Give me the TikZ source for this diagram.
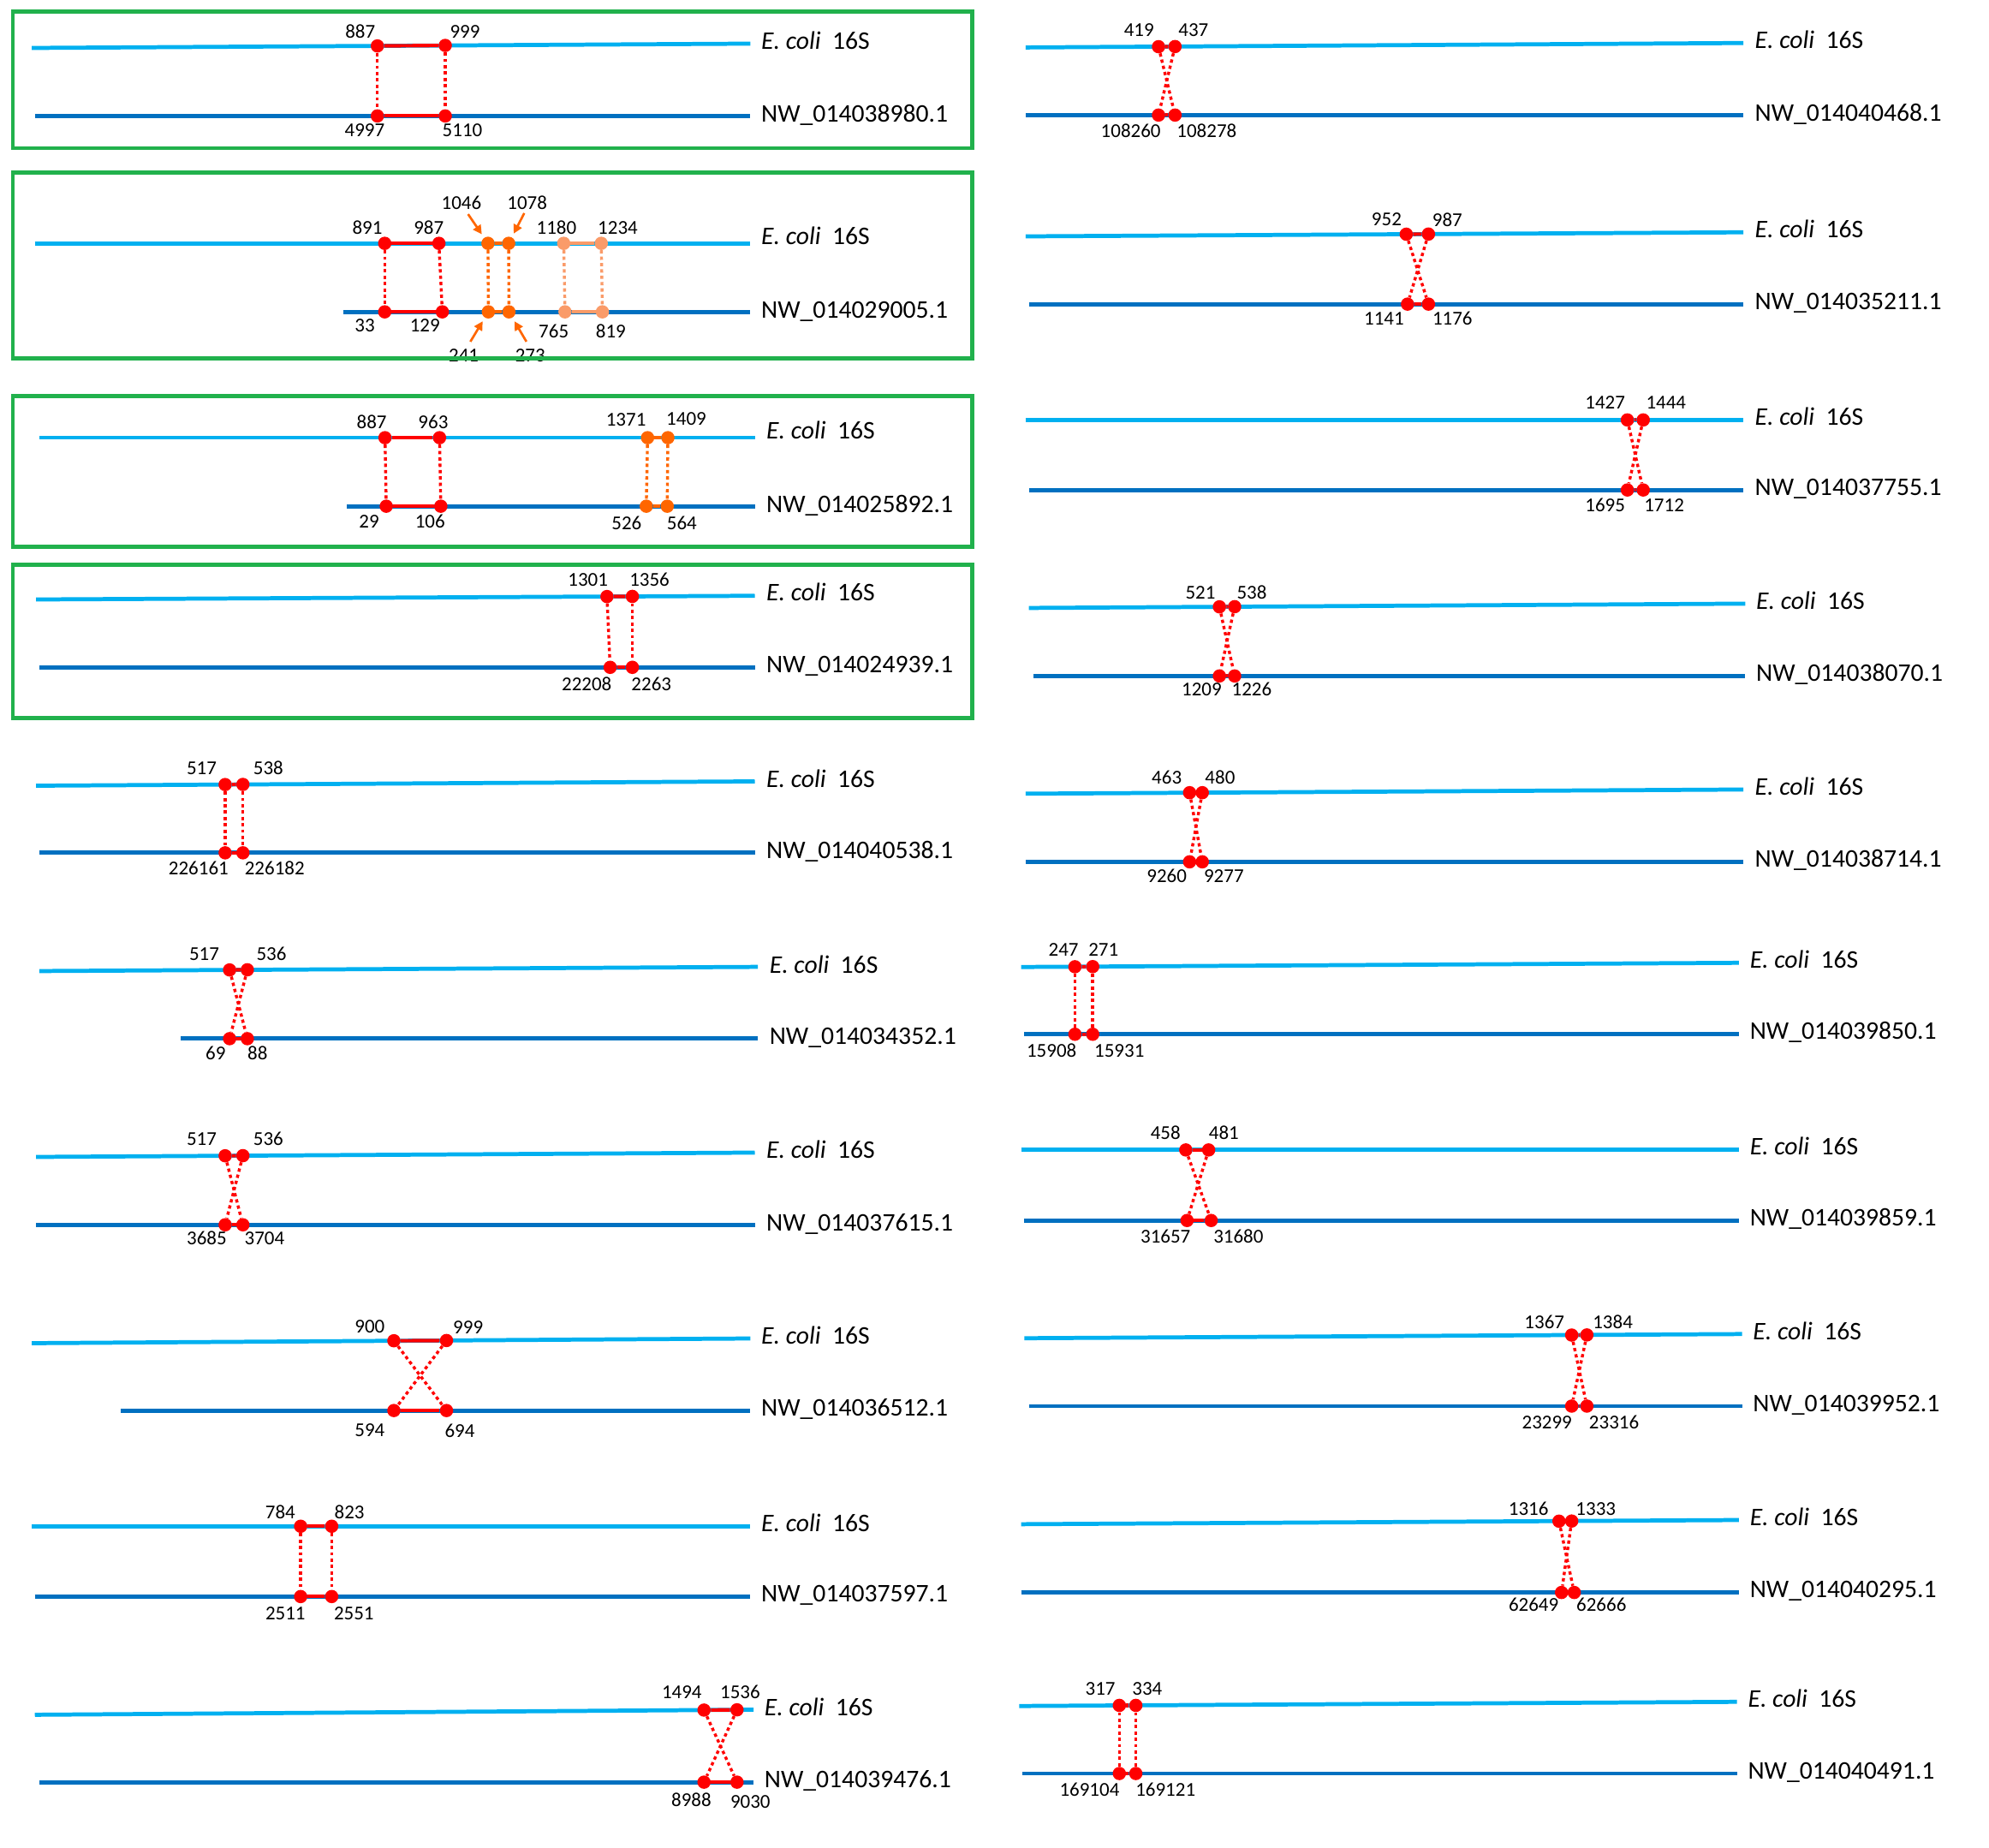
\documentclass[tikz,border=0pt]{standalone}
\usepackage{fontspec}
\setmainfont{Carlito}
\usetikzlibrary{arrows.meta}
\definecolor{ecoli}{HTML}{00B0F0}
\definecolor{nwblue}{HTML}{0070C0}
\definecolor{rred}{HTML}{FF0000}
\definecolor{orng}{HTML}{FF6600}
\definecolor{lorng}{HTML}{FA9B69}
\definecolor{bgreen}{HTML}{21B14C}
\tikzset{
  topseq/.style={draw=ecoli,line width=3.2pt},
  botseq/.style={draw=nwblue,line width=3.3pt},
  seqlab/.style={anchor=base west,inner sep=0pt,yshift=-6.4pt,font=\fontsize{20}{24}\selectfont},
  num/.style={anchor=base,inner sep=0pt,yshift=-4.9pt,font=\fontsize{15.5}{18}\selectfont},
  rdot/.style={circle,fill=rred,inner sep=0pt,minimum size=10.5pt},
  odot/.style={circle,fill=orng,inner sep=0pt,minimum size=10.5pt},
  ldot/.style={circle,fill=lorng,inner sep=0pt,minimum size=10.5pt},
  rseg/.style={draw=rred,line width=2.8pt},
  oseg/.style={draw=orng,line width=2.8pt},
  lseg/.style={draw=lorng,line width=2.8pt},
  rdots/.style={draw=rred,line width=2.3pt,dash pattern=on 2.6pt off 2.4pt},
  odots/.style={draw=orng,line width=2.3pt,dash pattern=on 2.6pt off 2.4pt},
  ldots/.style={draw=lorng,line width=2.3pt,dash pattern=on 2.6pt off 2.4pt},
  parr/.style={draw=orng,line width=1.8pt,-{Triangle[length=7pt,width=7pt]},shorten >=3.2pt},
  gbox/.style={draw=bgreen,line width=3pt}
}
\newcommand\skel[9]{%
  \coordinate (#1tl) at (#2); \coordinate (#1tr) at (#3);
  \coordinate (#1bl) at (#4); \coordinate (#1br) at (#5);
  \draw[topseq] (#1tl) -- (#1tr);
  \draw[botseq] (#1bl) -- (#1br);
  \node[seqlab] (#1a) at (#6,#7) {\textit{E. coli}\hspace{0.45em}16S};
  \node[seqlab] (#1b) at (#6,#8) {NW\_#9};
}
\newcommand\dotquad[6]{%
  \node[#2] (#1t1) at (#3) {}; \node[#2] (#1t2) at (#4) {};
  \node[#2] (#1b1) at (#5) {}; \node[#2] (#1b2) at (#6) {};
}
\newcommand\numq[9]{%
  \node[num] (#1n1) at (#2) {#3}; \node[num] (#1n2) at (#4) {#5};
  \node[num] (#1n3) at (#6) {#7}; \node[num] (#1n4) at (#8) {#9};
}
\newcommand\parlinks[3]{%
  \draw[#2] (#1t1) -- (#1t2); \draw[#2] (#1b1) -- (#1b2);
  \draw[#3] (#1t1) -- (#1b1); \draw[#3] (#1t2) -- (#1b2);
}
\newcommand\crosslinks[3]{%
  \draw[#2] (#1t1) -- (#1t2); \draw[#2] (#1b1) -- (#1b2);
  \draw[#3] (#1t1) -- (#1b2); \draw[#3] (#1t2) -- (#1b1);
}
\begin{document}
\begin{tikzpicture}[x=1pt,y=-1pt]
\useasboundingbox (0,0) rectangle (1568,1456);
\fill[white] (0,0) rectangle (1568,1456);
% ---------------- left column ----------------
% L1
\skel{L1}{25,37.8}{591.5,34.4}{27.5,91.4}{591.5,91.4}{600}{32.6}{90}{014038980.1}
\dotquad{L1}{rdot}{297.5,36.2}{351,35.8}{297.5,91.4}{351,91.4}
\parlinks{L1}{rseg}{rdots}
\numq{L1}{284,25.2}{887}{366.5,25.2}{999}{287.5,103}{4997}{364.5,103}{5110}
% L2
\skel{L2}{27.5,191.8}{591.5,191.8}{270.4,245.8}{591.5,245.8}{600}{186.3}{244.1}{014029005.1}
\dotquad{L2r}{rdot}{303.3,191.8}{346,191.8}{303.3,245.8}{348.7,245.8}
\dotquad{L2o}{odot}{384.7,191.8}{401,191.8}{385,245.8}{401.2,245.8}
\dotquad{L2l}{ldot}{444.4,191.8}{474,191.8}{445.4,245.8}{474.9,245.8}
\parlinks{L2r}{rseg}{rdots}
\parlinks{L2o}{oseg}{odots}
\parlinks{L2l}{lseg}{ldots}
\numq{L2r}{289.6,180}{891}{338,180}{987}{287.6,256.5}{33}{335,256.5}{129}
\numq{L2o}{363.8,160}{1046}{415.6,160}{1078}{365.6,280.5}{241}{418,280.5}{273}
\numq{L2l}{438.7,180}{1180}{487,180}{1234}{436.5,261.4}{765}{481.5,261.4}{819}
\coordinate (L2a1) at (369,168.8);
\coordinate (L2a2) at (413.3,168);
\coordinate (L2a3) at (370.8,269.3);
\coordinate (L2a4) at (415,269.3);
\draw[parr] (L2a1) -- (L2ot1);
\draw[parr] (L2a2) -- (L2ot2);
\draw[parr] (L2a3) -- (L2ob1);
\draw[parr] (L2a4) -- (L2ob2);
% L3
\skel{L3}{31,345}{595,345}{273.5,399}{595,399}{604}{339.7}{397.6}{014025892.1}
\dotquad{L3r}{rdot}{303.5,345}{346.5,345}{304.5,399}{347.5,399}
\dotquad{L3o}{odot}{510.5,345}{526.5,345}{509.5,399}{526,399}
\parlinks{L3r}{rseg}{rdots}
\parlinks{L3o}{oseg}{odots}
\numq{L3r}{293,333}{887}{341.5,333}{963}{291,411.3}{29}{339,411.3}{106}
\numq{L3o}{493.5,330.7}{1371}{541,330.5}{1409}{494,412.9}{526}{537.5,412.9}{564}
% L4
\skel{L4}{28.5,472.5}{595,469.6}{31,526}{595,526}{604}{467}{524}{014024939.1}
\dotquad{L4}{rdot}{478.5,470.2}{498.5,470.1}{481,526}{498.5,526}
\parlinks{L4}{rseg}{rdots}
\numq{L4}{463.5,457}{1301}{512,457}{1356}{462.5,539.5}{22208}{513.5,539.5}{2263}
% L5
\skel{L5}{28.5,619.3}{595,615.9}{31,672.2}{595,672.2}{604}{614}{670.4}{014040538.1}
\dotquad{L5}{rdot}{177.5,618.4}{191.5,618.3}{177.5,672.2}{191.5,672.2}
\parlinks{L5}{rseg}{rdots}
\numq{L5}{159,605.5}{517}{211.5,605.5}{538}{156.5,684.6}{226161}{216.5,684.6}{226182}
% L6
\skel{L6}{31,765.4}{597.5,762.1}{142.5,818.7}{597.5,818.7}{606.5}{760.5}{816.9}{014034352.1}
\dotquad{L6}{rdot}{181,764.5}{195,764.4}{181,818.7}{195,818.7}
\crosslinks{L6}{rseg}{rdots}
\numq{L6}{161,751.8}{517}{214,751.8}{536}{170,830.3}{69}{203,830.3}{88}
% L7
\skel{L7}{28.5,911.9}{595,908.5}{28.5,965.4}{595,965.4}{604}{906.5}{963.6}{014037615.1}
\dotquad{L7}{rdot}{177.5,911}{191.5,910.9}{177.5,965.4}{191.5,965.4}
\crosslinks{L7}{rseg}{rdots}
\numq{L7}{159,898.2}{517}{211.5,898.2}{536}{163,976.5}{3685}{208.5,976.5}{3704}
% L8
\skel{L8}{25,1058.7}{591.5,1055}{95,1111.8}{591.5,1111.8}{600}{1052.9}{1109.8}{014036512.1}
\dotquad{L8}{rdot}{310.5,1056.8}{352,1056.6}{310.5,1111.8}{352,1111.8}
\crosslinks{L8}{rseg}{rdots}
\numq{L8}{291.5,1045.6}{900}{369,1046.5}{999}{291.5,1127.3}{594}{362.5,1128}{694}
% L9
\skel{L9}{25,1203}{591.5,1203}{27.5,1258.4}{591.5,1258.4}{600}{1200.7}{1256}{014037597.1}
\dotquad{L9}{rdot}{237,1203}{261.5,1203}{237,1258.4}{261.5,1258.4}
\parlinks{L9}{rseg}{rdots}
\numq{L9}{221,1192}{784}{275.5,1192}{823}{225,1271.5}{2511}{279,1271.5}{2551}
% L10
\skel{L10}{27.5,1351.6}{594,1347.6}{31,1404.7}{594,1404.7}{602.5}{1345.8}{1402.6}{014039476.1}
\dotquad{L10}{rdot}{555,1347.9}{581,1347.7}{555,1404.7}{581,1404.7}
\crosslinks{L10}{rseg}{rdots}
\numq{L10}{537.5,1334.2}{1494}{583.5,1334.2}{1536}{545,1418.7}{8988}{591.5,1420}{9030}
% ---------------- right column ----------------
% R1
\skel{R1}{808.5,37.4}{1374.3,33.9}{808.5,90.7}{1374.3,90.7}{1383.3}{32}{88.9}{014040468.1}
\dotquad{R1}{rdot}{913.3,36.8}{926.3,36.7}{913.3,90.7}{926.3,90.7}
\crosslinks{R1}{rseg}{rdots}
\numq{R1}{897.9,24}{419}{940.8,24}{437}{891.4,103.3}{108260}{951.3,103.3}{108278}
% R2
\skel{R2}{808.5,186.3}{1374.3,183.1}{811,239.7}{1374.3,239.7}{1383.3}{181}{237.5}{014035211.1}
\dotquad{R2}{rdot}{1108.6,184.6}{1126.1,184.5}{1109.6,239.7}{1126.1,239.7}
\crosslinks{R2}{rseg}{rdots}
\numq{R2}{1093.1,173}{952}{1141,173.5}{987}{1091.1,251.4}{1141}{1145,251.4}{1176}
% R3
\skel{R3}{808.5,331}{1374.3,331}{811,386.2}{1374.3,386.2}{1383.3}{328.8}{384.3}{014037755.1}
\dotquad{R3}{rdot}{1282.9,331}{1295.4,331}{1282.9,386.2}{1295.4,386.2}
\crosslinks{R3}{rseg}{rdots}
\numq{R3}{1265.4,317.6}{1427}{1313.4,317.6}{1444}{1265.4,398.5}{1695}{1311.9,398.5}{1712}
% R4
\skel{R4}{811,479.2}{1375.8,475.8}{815,532.8}{1375.8,532.8}{1384.3}{473.8}{530.5}{014038070.1}
\dotquad{R4}{rdot}{961.3,478.3}{973.3,478.2}{961.3,532.8}{973.3,532.8}
\crosslinks{R4}{rseg}{rdots}
\numq{R4}{946.3,467.2}{521}{986.8,467.2}{538}{947.3,543.8}{1209}{986.8,543.8}{1226}
% R5
\skel{R5}{808.5,625.6}{1374.3,622.3}{808.5,679.3}{1374.3,679.3}{1383.3}{620}{677}{014038714.1}
\dotquad{R5}{rdot}{937.8,624.8}{947.8,624.8}{937.8,679.3}{947.8,679.3}
\crosslinks{R5}{rseg}{rdots}
\numq{R5}{919.8,613}{463}{961.8,613}{480}{919.8,690.6}{9260}{964.8,690.6}{9277}
% R6
\skel{R6}{805,762.2}{1370.8,758.9}{807.5,815.2}{1370.8,815.2}{1379.3}{756.5}{812.9}{014039850.1}
\dotquad{R6}{rdot}{847.4,762}{861.4,761.9}{847.4,815.2}{861.4,815.2}
\parlinks{R6}{rseg}{rdots}
\numq{R6}{838.4,748.9}{247}{869.9,748.9}{271}{829,828.5}{15908}{882.4,828.5}{15931}
% R7
\skel{R7}{805,906.4}{1370.8,906.4}{807.5,962}{1370.8,962}{1379.3}{904}{959.7}{014039859.1}
\dotquad{R7}{rdot}{934.8,906.4}{952.8,906.4}{935.8,962}{954.8,962}
\crosslinks{R7}{rseg}{rdots}
\numq{R7}{918.8,893.1}{458}{964.8,893.1}{481}{918.8,974.6}{31657}{976.3,974.6}{31680}
% R8
\skel{R8}{807.5,1054.8}{1373.3,1051.5}{811.5,1108.3}{1373.3,1108.3}{1381.8}{1049.5}{1106}{014039952.1}
\dotquad{R8}{rdot}{1239,1052.3}{1251,1052.2}{1239,1108.3}{1251,1108.3}
\crosslinks{R8}{rseg}{rdots}
\numq{R8}{1217.5,1042.3}{1367}{1271.4,1042.3}{1384}{1219.5,1121.5}{23299}{1272.4,1121.5}{23316}
% R9
\skel{R9}{805,1201.4}{1370.8,1198.1}{805,1255.2}{1370.8,1255.2}{1379.3}{1195.8}{1252.6}{014040295.1}
\dotquad{R9}{rdot}{1229,1199}{1239,1198.9}{1231,1255.2}{1241,1255.2}
\crosslinks{R9}{rseg}{rdots}
\numq{R9}{1205,1189.2}{1316}{1258,1189.2}{1333}{1209,1265.1}{62649}{1262.4,1265.1}{62666}
% R10
\skel{R10}{803.5,1344.7}{1369.3,1341.4}{806,1397.9}{1369.3,1397.9}{1377.8}{1339.1}{1395.6}{014040491.1}
\dotquad{R10}{rdot}{882.4,1344.2}{895.4,1344.2}{882.4,1397.9}{895.4,1397.9}
\parlinks{R10}{rseg}{rdots}
\numq{R10}{867.4,1331.2}{317}{904.4,1331.2}{334}{858.9,1411.1}{169104}{918.8,1411.1}{169121}
% ---------------- green frames ----------------
\draw[gbox] (10,9) rectangle (766.5,116.6);
\draw[gbox] (10,136) rectangle (766.5,282.4);
\draw[gbox] (10,312.3) rectangle (766.5,431);
\draw[gbox] (10,445) rectangle (766.5,566);
\end{tikzpicture}
\end{document}
